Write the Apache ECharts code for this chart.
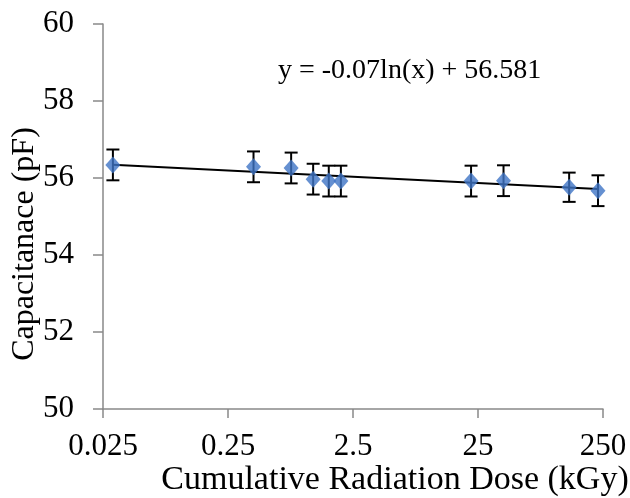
<!DOCTYPE html>
<html>
<head>
<meta charset="utf-8">
<script src="https://cdn.jsdelivr.net/npm/echarts@6/dist/echarts.min.js"></script>
<style>
html,body{margin:0;padding:0;background:#fff;}
#chart{width:630px;height:498px;}
</style>
</head>
<body>
<div id="chart"></div>
<script>
// Data
const doses = [0.03, 0.4, 0.8, 1.2, 1.6, 2.0, 22, 40, 134, 228];           // kGy
const capacitance = [56.34, 56.29, 56.26, 55.97, 55.92, 55.92, 55.92, 55.93, 55.76, 55.67]; // pF
const errorBars = [0.4, 0.4, 0.4, 0.4, 0.4, 0.4, 0.4, 0.4, 0.38, 0.4];
const xTickLabels = ['0.025', '0.25', '2.5', '25', '250'];
const xBase = 0.025;
const equationText = 'y = -0.07ln(x) + 56.581';
const xTitle = 'Cumulative Radiation Dose (kGy)';
const yTitle = 'Capacitanace (pF)';

// log-decade position relative to 0.025
const toU = d => Math.log10(d / xBase);
const pts = doses.map((d, i) => [toU(d), capacitance[i]]);
const errData = doses.map((d, i) => [toU(d), capacitance[i] - errorBars[i], capacitance[i] + errorBars[i]]);

// least-squares logarithmic trendline (straight in log space)
const n = pts.length;
const mx = pts.reduce((s, p) => s + p[0], 0) / n;
const my = pts.reduce((s, p) => s + p[1], 0) / n;
let sxy = 0, sxx = 0;
pts.forEach(p => { sxy += (p[0] - mx) * (p[1] - my); sxx += (p[0] - mx) * (p[0] - mx); });
const b = sxy / sxx, a = my - b * mx;
const u0 = pts[0][0], u1 = pts[n - 1][0];
const trend = [[u0, a + b * u0], [u1, a + b * u1]];

const FONT = '"Liberation Serif", "Times New Roman", serif';
const axisGray = '#898989';

const chart = echarts.init(document.getElementById('chart'));
chart.setOption({
  animation: false,
  grid: { left: 103, right: 27, top: 24, bottom: 89 },
  xAxis: {
    type: 'value', min: 0, max: 4, interval: 1,
    axisLine: { show: true, lineStyle: { color: axisGray, width: 1.5 } },
    axisTick: { show: true, length: 9, lineStyle: { color: axisGray, width: 1.5 } },
    splitLine: { show: false },
    axisLabel: { formatter: v => xTickLabels[Math.round(v)], fontFamily: FONT, fontSize: 31, color: '#000', margin: 22 }
  },
  yAxis: {
    type: 'value', min: 50, max: 60, interval: 2,
    axisLine: { show: true, lineStyle: { color: axisGray, width: 1.5 } },
    axisTick: { show: true, length: 10, lineStyle: { color: axisGray, width: 1.5 } },
    splitLine: { show: false },
    axisLabel: { fontFamily: FONT, fontSize: 31, color: '#000', margin: 29 }
  },
  graphic: [
    { type: 'text', x: 278, y: 71, style: { text: equationText, font: '28px ' + FONT, fill: '#000', textAlign: 'left', textVerticalAlign: 'middle' } },
    { type: 'text', x: 395, y: 480, style: { text: xTitle, font: '34px ' + FONT, fill: '#000', textAlign: 'center', textVerticalAlign: 'middle' } },
    { type: 'text', x: 25, y: 244, rotation: Math.PI / 2, style: { text: yTitle, font: '32px ' + FONT, fill: '#000', textAlign: 'center', textVerticalAlign: 'middle' } }
  ],
  series: [
    {
      type: 'line', data: trend, showSymbol: false, symbol: 'none',
      lineStyle: { color: '#000', width: 2 }, z: 2
    },
    {
      type: 'custom', z: 3,
      data: errData,
      renderItem: function (params, api) {
        const x = api.value(0);
        const lo = api.coord([x, api.value(1)]);
        const hi = api.coord([x, api.value(2)]);
        const hw = 6.5;
        const st = { stroke: '#000', lineWidth: 2 };
        return {
          type: 'group', children: [
            { type: 'line', shape: { x1: lo[0], y1: lo[1], x2: hi[0], y2: hi[1] }, style: st },
            { type: 'line', shape: { x1: lo[0] - hw, y1: lo[1], x2: lo[0] + hw, y2: lo[1] }, style: st },
            { type: 'line', shape: { x1: hi[0] - hw, y1: hi[1], x2: hi[0] + hw, y2: hi[1] }, style: st }
          ]
        };
      }
    },
    {
      type: 'scatter', data: pts, symbol: 'diamond', symbolSize: [15, 17], z: 4,
      itemStyle: { color: '#3F74C6' }
    }
  ]
});
</script>
</body>
</html>
